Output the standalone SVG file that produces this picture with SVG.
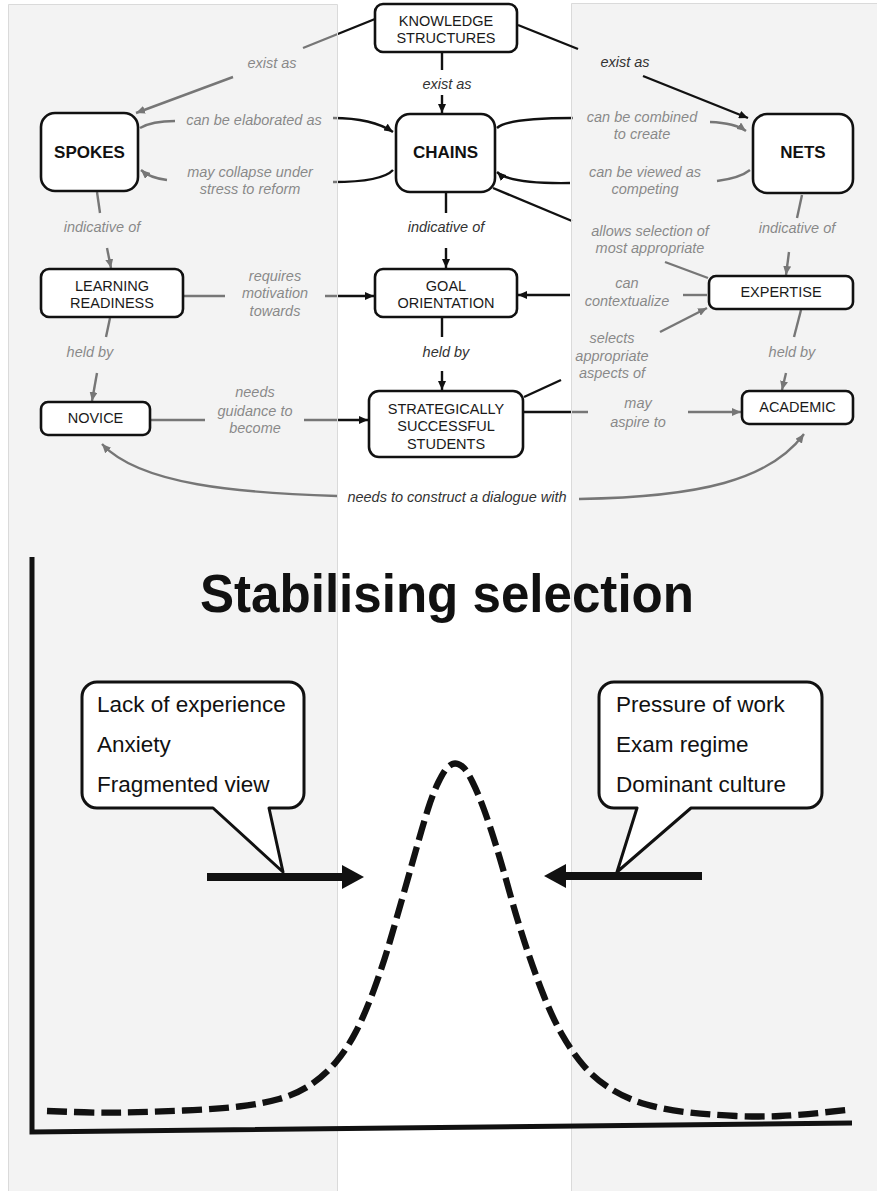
<svg xmlns="http://www.w3.org/2000/svg" width="877" height="1191" viewBox="0 0 877 1191">
  <style>
    text { font-family: "Liberation Sans", Arial, Helvetica, sans-serif; }
    .edge { fill: none; stroke: #111; stroke-width: 2.4; }
    .lbl { font-size: 14.5px; font-style: italic; fill: #333; text-anchor: middle; }
    .box { fill: #fff; stroke: #111; stroke-width: 2.6; }
    .ntext { font-size: 14.5px; fill: #1a1a1a; text-anchor: middle; }
    .btext { font-size: 17px; font-weight: bold; fill: #111; text-anchor: middle; }
    .veil { fill: #e6e6e6; fill-opacity: 0.48; }
    .rule { fill: none; stroke: #dadada; stroke-width: 1; }
    .cue { font-size: 22.5px; fill: #111; }
    .bubble { fill: #fff; stroke: #111; stroke-width: 3; stroke-linejoin: round; }
  </style>
  <defs>
    <marker id="tip" viewBox="0 0 9 8" markerWidth="9" markerHeight="8" refX="9" refY="4" orient="auto" markerUnits="userSpaceOnUse">
      <path d="M0,0 L9,4 L0,8 z" fill="#111"/>
    </marker>
  </defs>

  <rect width="877" height="1191" fill="#fff"/>

  <g id="connectors">
    <g id="edges-under-shade">
      <!-- knowledge structures -> spokes -->
      <path class="edge" d="M375,19 L303,48"/>
      <path class="edge" d="M233,77 L136,113" marker-end="url(#tip)"/>
      <text class="lbl" x="272" y="68">exist as</text>
      <!-- knowledge structures -> chains -->
      <path class="edge" d="M442,52 L442,70"/>
      <path class="edge" d="M442,95 L442,113" marker-end="url(#tip)"/>
      <text class="lbl" x="447" y="89">exist as</text>
      <!-- spokes -> chains -->
      <path class="edge" d="M140,128 Q152,121 175,121"/>
      <path class="edge" d="M333,118 Q372,118 393,132" marker-end="url(#tip)"/>
      <text class="lbl" x="254" y="125">can be elaborated as</text>
      <!-- chains -> spokes -->
      <path class="edge" d="M393,170 Q382,182 333,182"/>
      <path class="edge" d="M167,180 Q150,178 141,170" marker-end="url(#tip)"/>
      <text class="lbl" x="250" y="177">may collapse under</text>
      <text class="lbl" x="250" y="194">stress to reform</text>
      <!-- chains -> nets -->
      <path class="edge" d="M497,128 Q508,118 573,118"/>
      <path class="edge" d="M710,122 Q735,123 746,131" marker-end="url(#tip)"/>
      <text class="lbl" x="642" y="122">can be combined</text>
      <text class="lbl" x="642" y="139">to create</text>
      <!-- nets -> chains -->
      <path class="edge" d="M750,170 Q740,178 717,181"/>
      <path class="edge" d="M570,183 Q510,184 497,172" marker-end="url(#tip)"/>
      <text class="lbl" x="645" y="177">can be viewed as</text>
      <text class="lbl" x="645" y="194">competing</text>
      <!-- chains - expertise -->
      <path class="edge" d="M493,188 L572,221"/>
      <path class="edge" d="M665,262 L708,278"/>
      <text class="lbl" x="650" y="236">allows selection of</text>
      <text class="lbl" x="650" y="253">most appropriate</text>
      <!-- indicative of -->
      <path class="edge" d="M446,193 L446,213"/>
      <path class="edge" d="M446,248 L446,268" marker-end="url(#tip)"/>
      <text class="lbl" x="446" y="232">indicative of</text>
      <path class="edge" d="M97,192 L100,213"/>
      <path class="edge" d="M107,248 L111,268" marker-end="url(#tip)"/>
      <text class="lbl" x="102" y="232">indicative of</text>
      <path class="edge" d="M802,195 L797,218"/>
      <path class="edge" d="M789,252 L786,275" marker-end="url(#tip)"/>
      <text class="lbl" x="797" y="233">indicative of</text>
      <!-- learning readiness -> goal orientation -->
      <path class="edge" d="M184,296 L225,296"/>
      <path class="edge" d="M325,296 L374,296" marker-end="url(#tip)"/>
      <text class="lbl" x="275" y="281">requires</text>
      <text class="lbl" x="275" y="298">motivation</text>
      <text class="lbl" x="275" y="316">towards</text>
      <!-- expertise -> goal orientation -->
      <path class="edge" d="M707,295 L683,295"/>
      <path class="edge" d="M570,295 L518,295" marker-end="url(#tip)"/>
      <text class="lbl" x="627" y="288">can</text>
      <text class="lbl" x="627" y="306">contextualize</text>
      <!-- students -> expertise -->
      <path class="edge" d="M524,397 L561,380"/>
      <path class="edge" d="M660,332 L707,308" marker-end="url(#tip)"/>
      <text class="lbl" x="612" y="343">selects</text>
      <text class="lbl" x="612" y="361">appropriate</text>
      <text class="lbl" x="612" y="378">aspects of</text>
      <!-- held by -->
      <path class="edge" d="M442,318 L442,337"/>
      <path class="edge" d="M442,371 L442,390" marker-end="url(#tip)"/>
      <text class="lbl" x="446" y="357">held by</text>
      <path class="edge" d="M110,318 L106,337"/>
      <path class="edge" d="M97,373 L92,401" marker-end="url(#tip)"/>
      <text class="lbl" x="90" y="357">held by</text>
      <path class="edge" d="M801,310 L794,337"/>
      <path class="edge" d="M786,373 L782,390" marker-end="url(#tip)"/>
      <text class="lbl" x="792" y="357">held by</text>
      <!-- novice -> students -->
      <path class="edge" d="M151,420 L205,420"/>
      <path class="edge" d="M304,420 L368,420" marker-end="url(#tip)"/>
      <text class="lbl" x="255" y="397">needs</text>
      <text class="lbl" x="255" y="416">guidance to</text>
      <text class="lbl" x="255" y="433">become</text>
      <!-- students -> academic -->
      <path class="edge" d="M523,412 L588,412"/>
      <path class="edge" d="M688,412 L741,412" marker-end="url(#tip)"/>
      <text class="lbl" x="638" y="408">may</text>
      <text class="lbl" x="638" y="427">aspire to</text>
      <!-- dialogue between novice and academic -->
      <path class="edge" d="M337,496 C240,493 140,485 102,444" marker-end="url(#tip)"/>
      <path class="edge" d="M579,499 C700,497 770,480 804,434" marker-end="url(#tip)"/>
      <text class="lbl" x="457" y="502">needs to construct a dialogue with</text>
    </g>

    <!-- shaded side columns dim the lines and labels beneath them -->
    <rect class="veil" x="8" y="4" width="329" height="1187"/>
    <rect class="veil" x="571" y="3" width="306" height="1188"/>
    <path class="rule" d="M8.5,1191 V4.5 H337.5 V1191 M571.5,1191 V3.5 H877"/>

    <g id="edge-ks-nets">
      <path class="edge" d="M518,25 L578,49"/>
      <path class="edge" d="M643,76 L748,118" marker-end="url(#tip)"/>
      <text class="lbl" x="625" y="67">exist as</text>
    </g>
  </g>

  <g id="node-knowledge-structures">
    <rect class="box" x="375" y="4" width="142" height="48" rx="8"/>
    <text class="ntext" x="446" y="26">KNOWLEDGE</text>
    <text class="ntext" x="446" y="43">STRUCTURES</text>
  </g>
  <g id="node-spokes">
    <rect class="box" x="41" y="113" width="97" height="78" rx="14"/>
    <text class="btext" x="89.5" y="158">SPOKES</text>
  </g>
  <g id="node-chains">
    <rect class="box" x="396" y="114" width="99" height="78" rx="14"/>
    <text class="btext" x="445.5" y="158">CHAINS</text>
  </g>
  <g id="node-nets">
    <rect class="box" x="753" y="114" width="100" height="79" rx="14"/>
    <text class="btext" x="803" y="158">NETS</text>
  </g>
  <g id="node-learning-readiness">
    <rect class="box" x="41" y="269" width="142" height="48" rx="8"/>
    <text class="ntext" x="112" y="291">LEARNING</text>
    <text class="ntext" x="112" y="308">READINESS</text>
  </g>
  <g id="node-goal-orientation">
    <rect class="box" x="375" y="269" width="142" height="48" rx="8"/>
    <text class="ntext" x="446" y="291">GOAL</text>
    <text class="ntext" x="446" y="308">ORIENTATION</text>
  </g>
  <g id="node-expertise">
    <rect class="box" x="709" y="276" width="144" height="33" rx="7"/>
    <text class="ntext" x="781" y="297">EXPERTISE</text>
  </g>
  <g id="node-novice">
    <rect class="box" x="41" y="402" width="109" height="33" rx="7"/>
    <text class="ntext" x="95.5" y="423">NOVICE</text>
  </g>
  <g id="node-students">
    <rect class="box" x="369" y="391" width="154" height="66" rx="10"/>
    <text class="ntext" x="446" y="414">STRATEGICALLY</text>
    <text class="ntext" x="446" y="431">SUCCESSFUL</text>
    <text class="ntext" x="446" y="449">STUDENTS</text>
  </g>
  <g id="node-academic">
    <rect class="box" x="742" y="391" width="111" height="33" rx="7"/>
    <text class="ntext" x="797.5" y="412">ACADEMIC</text>
  </g>

  <!-- stabilising selection chart -->
  <g id="chart">
    <text x="447" y="612" font-size="54" font-weight="bold" fill="#111" text-anchor="middle" textLength="494" lengthAdjust="spacingAndGlyphs">Stabilising selection</text>
    <path d="M32,557 L32,1132 L852,1123" fill="none" stroke="#111" stroke-width="5"/>
    <!-- bell-shaped distribution, smoothed through sampled points -->
    <path d="M47,1111 L73.5,1112 Q100,1113 125,1112.5 Q150,1112 183.5,1110.5 Q217,1109 239,1106.5 Q261,1104 279,1099 Q297,1094 311,1084.5 Q325,1075 336,1062 Q347,1049 356,1031.5 Q365,1014 374,989.5 Q383,965 390,941 Q397,917 404.5,890.5 Q412,864 417.5,844.5 Q423,825 428,809 Q433,793 438.5,782 Q444,771 447,768 Q450,765 452.5,764 Q455,763 458,764 Q461,765 464,768 Q467,771 472.5,782 Q478,793 484,809.5 Q490,826 496,845.5 Q502,865 509.5,892 Q517,919 525,943.5 Q533,968 542.5,992.5 Q552,1017 562,1034.5 Q572,1052 583.5,1065.5 Q595,1079 611,1089 Q627,1099 646.5,1104.5 Q666,1110 689,1112.5 Q712,1115 736,1116 Q760,1117 780,1116 Q800,1115 823,1112.5 L846,1110" fill="none" stroke="#111" stroke-width="6.3" stroke-dasharray="20 7" stroke-linejoin="round"/>

    <g id="callout-left">
      <path class="bubble" d="M97,682 H289 A15,15 0 0 1 304,697 V793 A15,15 0 0 1 289,808 H269 L283,872 L213,808 H97 A15,15 0 0 1 82,793 V697 A15,15 0 0 1 97,682 Z"/>
      <text class="cue" x="97" y="712">Lack of experience</text>
      <text class="cue" x="97" y="752">Anxiety</text>
      <text class="cue" x="97" y="792">Fragmented view</text>
    </g>
    <g id="callout-right">
      <path class="bubble" d="M614,682 H807 A15,15 0 0 1 822,697 V793 A15,15 0 0 1 807,808 H691 L617,872 L637,808 H614 A15,15 0 0 1 599,793 V697 A15,15 0 0 1 614,682 Z"/>
      <text class="cue" x="616" y="712">Pressure of work</text>
      <text class="cue" x="616" y="752">Exam regime</text>
      <text class="cue" x="616" y="792">Dominant culture</text>
    </g>

    <g id="pressure-arrows" fill="#111">
      <rect x="207" y="873" width="137" height="8"/>
      <path d="M342,865 L364,877 L342,889 Z"/>
      <rect x="564" y="872" width="138" height="8"/>
      <path d="M566,864 L544,876 L566,888 Z"/>
    </g>
  </g>
</svg>
